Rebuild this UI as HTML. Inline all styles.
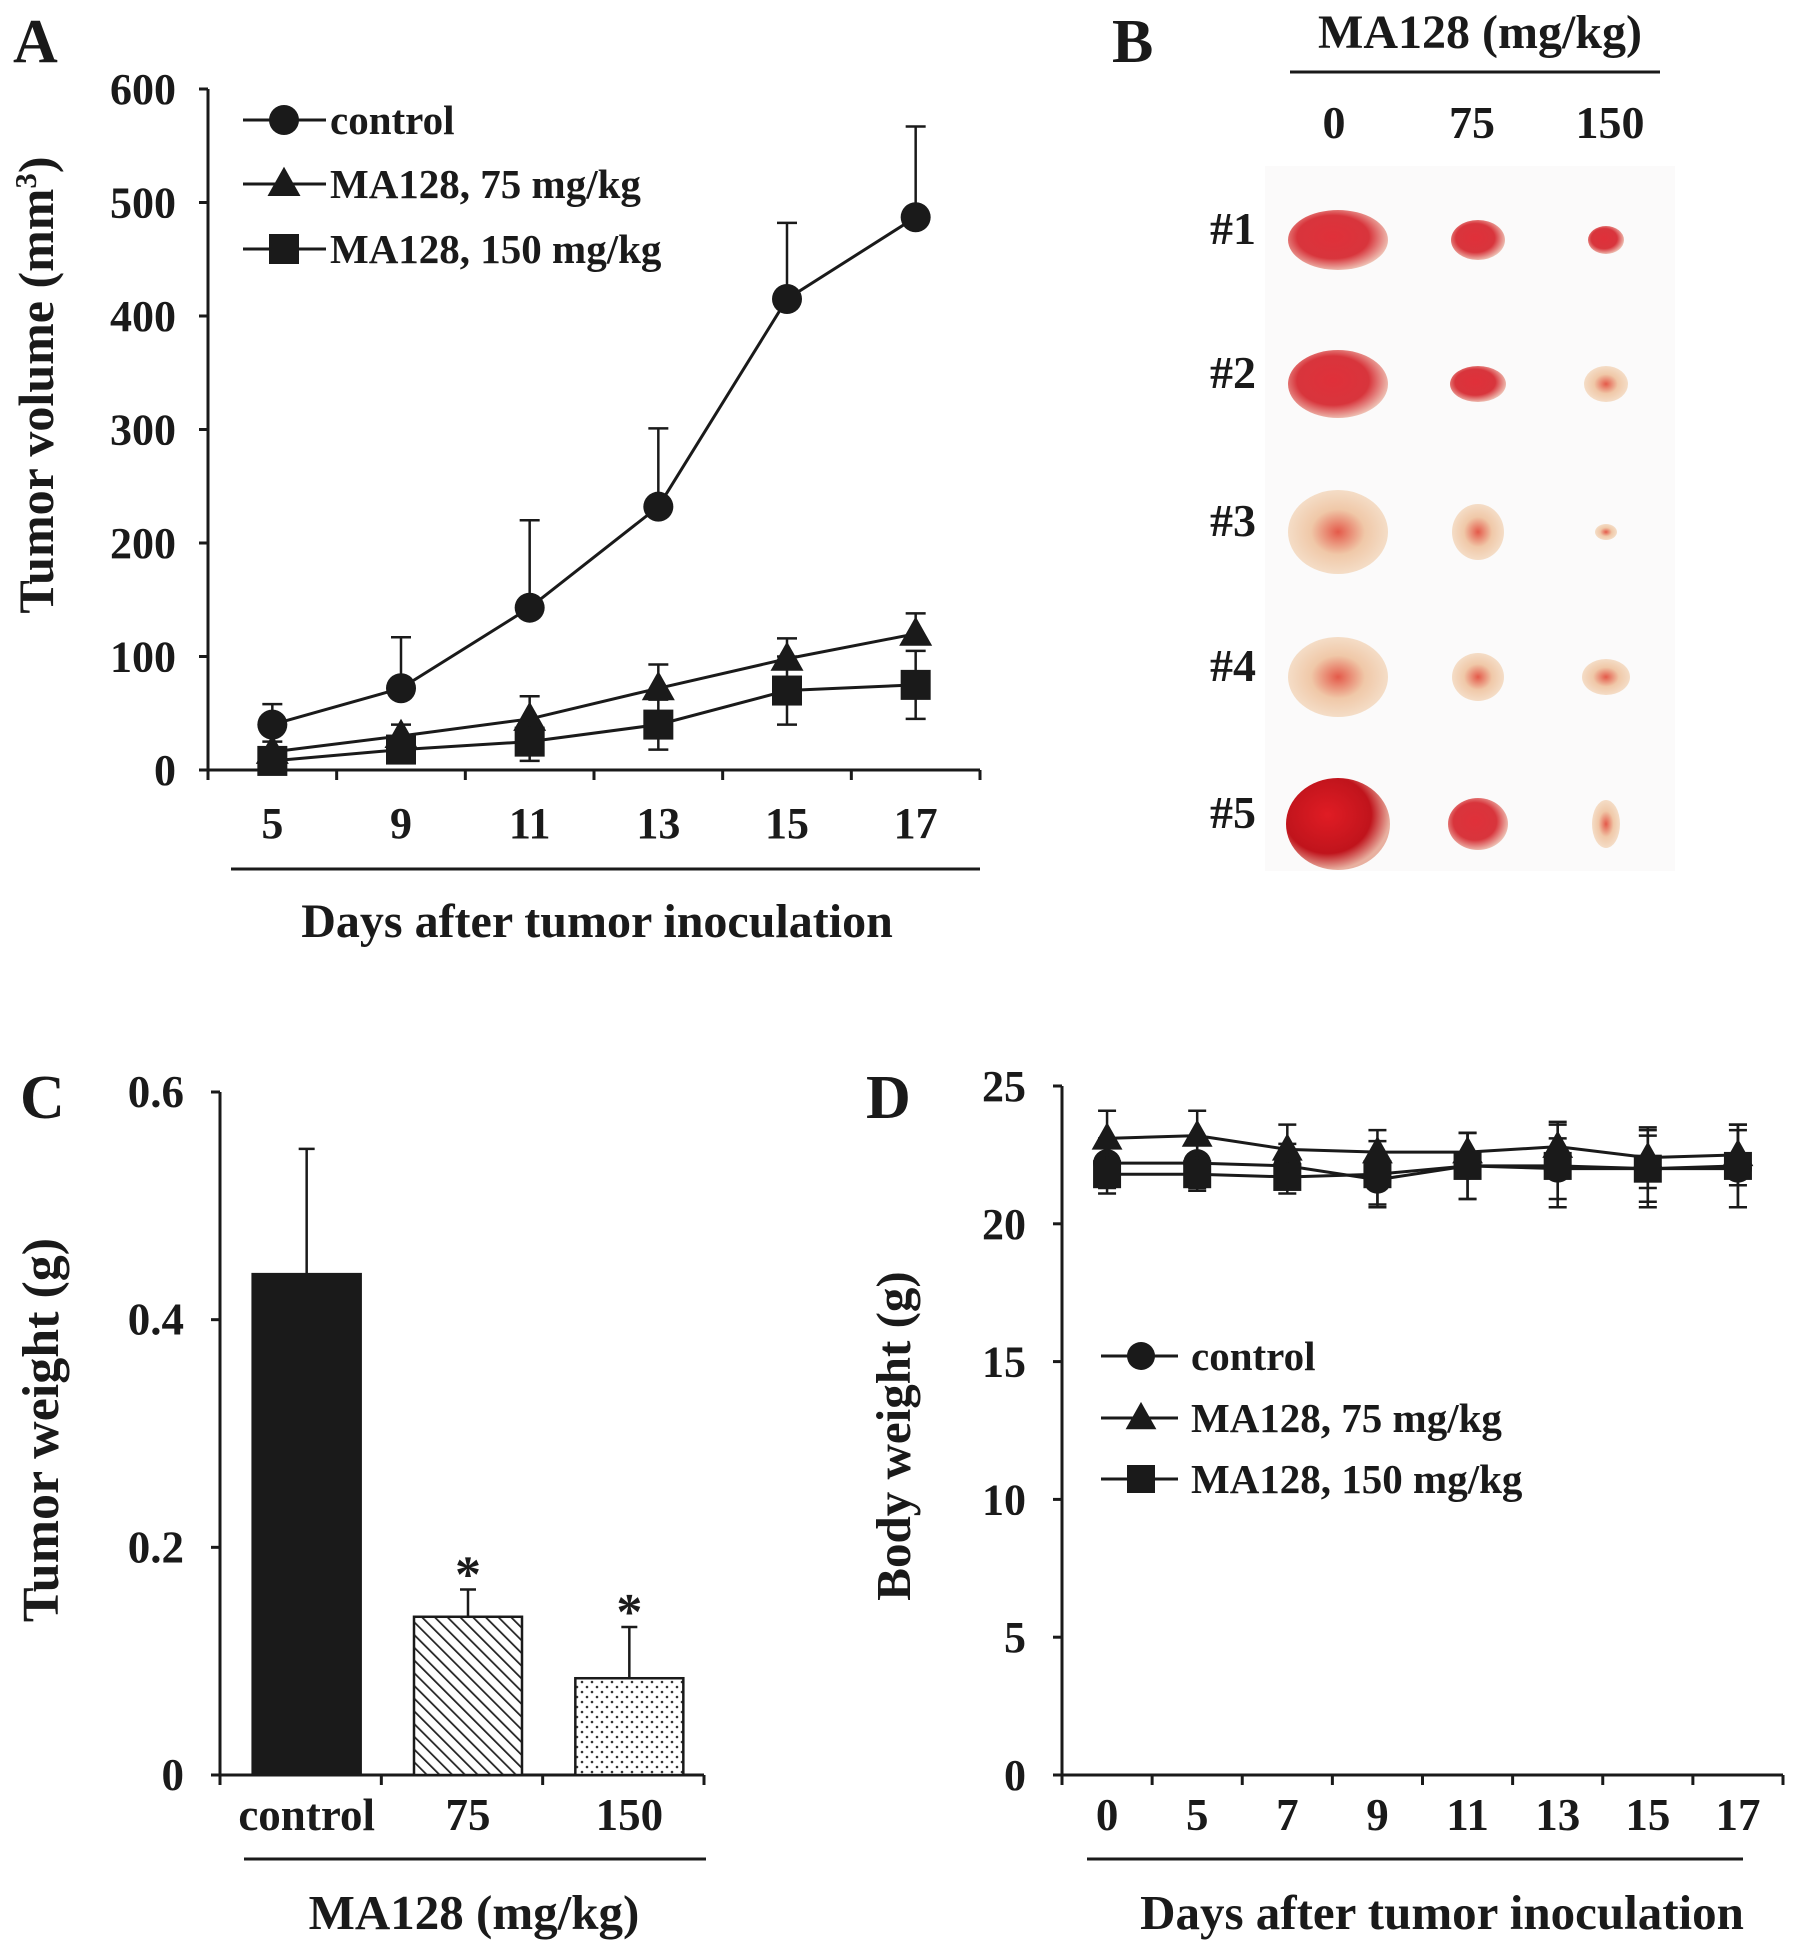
<!DOCTYPE html>
<html><head><meta charset="utf-8"><style>
html,body{margin:0;padding:0;background:#fff}
svg{display:block}
text{font-family:"Liberation Serif",serif;font-weight:bold;fill:#1a1a1a}
</style></head><body>
<svg id="fig" width="1795" height="1947" viewBox="0 0 1795 1947">
<defs>
<pattern id="hatch" width="9" height="9" patternUnits="userSpaceOnUse" patternTransform="rotate(-45)"><rect width="9" height="9" fill="#fff"/><line x1="0" y1="0" x2="0" y2="9" stroke="#222" stroke-width="3.5"/></pattern>
<pattern id="dots" width="10" height="10" patternUnits="userSpaceOnUse"><rect width="10" height="10" fill="#fff"/><circle cx="2" cy="2" r="1.3" fill="#333"/><circle cx="7" cy="7" r="1.3" fill="#333"/></pattern>
<radialGradient id="tumRed" cx="45%" cy="45%" r="60%"><stop offset="0" stop-color="#e0303a"/><stop offset="0.6" stop-color="#d8353c"/><stop offset="1" stop-color="#f2d8c8"/></radialGradient>
<radialGradient id="tumCream" cx="50%" cy="50%" r="60%"><stop offset="0" stop-color="#e45a4a"/><stop offset="0.45" stop-color="#f0c8a8"/><stop offset="1" stop-color="#f6e6d4"/></radialGradient>
<radialGradient id="tumDark" cx="40%" cy="40%" r="60%"><stop offset="0" stop-color="#e01c24"/><stop offset="0.7" stop-color="#c0141c"/><stop offset="1" stop-color="#e8b0a0"/></radialGradient>
</defs>
<g id="panelA"></g>
<g id="panelB"></g>
<g id="panelC"></g>
<g id="panelD"></g>
</svg>
<script>
const NS="http://www.w3.org/2000/svg";
function mk(parent,tag,attrs,txt){const e=document.createElementNS(NS,tag);for(const k in attrs)e.setAttribute(k,attrs[k]);if(txt!==undefined)e.textContent=txt;parent.appendChild(e);return e;}

// ---------- Panel A data ----------
const aDays=["5","9","11","13","15","17"];
const aControl=[40,72,143,232,415,487];
const aControlErr=[18,45,77,69,67,80];
const a75=[16,30,45,72,98,120];
const a75Err=[9,10,20,21,18,18];
const a150=[8,18,25,40,70,75];
const a150Err=[8,10,17,22,30,30];
const aYTicks=[0,100,200,300,400,500,600];

// ---------- Panel C data ----------
const cGroups=["control","75","150"];
const cValues=[0.44,0.139,0.085];
const cErr=[0.11,0.024,0.045];
const cYTicks=[0,0.2,0.4,0.6];
const cYLabels=["0","0.2","0.4","0.6"];

// ---------- Panel D data ----------
const dDays=["0","5","7","9","11","13","15","17"];
const dControl=[22.2,22.2,22.1,21.6,22.1,22.0,22.0,22.0];
const dControlErr=[0.9,0.9,0.8,0.9,1.2,1.1,1.2,1.4];
const d75=[23.1,23.2,22.7,22.6,22.6,22.8,22.4,22.5];
const d75Err=[1.0,0.9,0.9,0.8,0.7,0.9,1.1,1.1];
const d150=[21.8,21.8,21.7,21.8,22.1,22.1,22.0,22.1];
const d150Err=[0.7,0.6,0.6,1.2,1.2,1.5,1.4,1.5];
const dYTicks=[0,5,10,15,20,25];

function marker(g,type,x,y,s,name){
  let m;
  if(type==="circle")m=mk(g,"circle",{cx:x,cy:y,r:s,fill:"#1a1a1a"});
  else if(type==="tri")m=mk(g,"polygon",{points:`${x},${y-s*1.15} ${x-s*1.1},${y+s*0.8} ${x+s*1.1},${y+s*0.8}`,fill:"#1a1a1a"});
  else m=mk(g,"rect",{x:x-s,y:y-s,width:2*s,height:2*s,fill:"#1a1a1a"});
  
  
  return m;
}
function errbar(g,x,y1,y2,cap,name){
  const e=mk(g,"path",{d:`M${x},${y1}V${y2}M${x-cap},${y2}H${x+cap}`,stroke:"#1a1a1a","stroke-width":2.5,fill:"none"});
  
  
}
function lineSeries(g,xs,ys,name){
  const p=mk(g,"polyline",{points:xs.map((x,i)=>x+","+ys[i]).join(" "),fill:"none",stroke:"#1a1a1a","stroke-width":3});
  
  
}

// ===== Panel A =====
(function(){
  const g=document.getElementById("panelA");
  
  
  const x0=208,xEnd=980,y0=770,yTop=89;
  const ys=v=>y0-(v/600)*(y0-yTop);
  const step=(xEnd-x0)/6;
  const xs=i=>x0+step*(i+0.5);
  const lbl=mk(g,"text",{x:13,y:62,"font-size":62},"A");
  
  mk(g,"path",{d:`M${x0},${yTop}V${y0}H${xEnd}`,stroke:"#1a1a1a","stroke-width":3,fill:"none"});
  aYTicks.forEach(v=>{
    mk(g,"line",{x1:x0-9,x2:x0,y1:ys(v),y2:ys(v),stroke:"#1a1a1a","stroke-width":3});
    const t=mk(g,"text",{x:x0-32,y:ys(v)+15,"font-size":44,"text-anchor":"end"},String(v));
    
  });
  for(let i=0;i<=6;i++)mk(g,"line",{x1:x0+step*i,x2:x0+step*i,y1:y0,y2:y0+10,stroke:"#1a1a1a","stroke-width":3});
  aDays.forEach((d,i)=>{
    const t=mk(g,"text",{x:xs(i),y:838,"font-size":44,"text-anchor":"middle"},d);
    
  });
  mk(g,"line",{x1:231,x2:980,y1:869,y2:869,stroke:"#1a1a1a","stroke-width":3});
  const xt=mk(g,"text",{x:597,y:937,"font-size":48,"text-anchor":"middle"},"Days after tumor inoculation");
  
  const yt=mk(g,"text",{x:0,y:0,"font-size":50,"text-anchor":"middle",transform:"translate(53,385) rotate(-90)"});
  yt.innerHTML='Tumor volume (mm<tspan dy="-17" font-size="31">3</tspan><tspan dy="17">)</tspan>';
  
  const X=aDays.map((d,i)=>xs(i));
  [[aControl,aControlErr,"circle","control"],[a75,a75Err,"tri","75"],[a150,a150Err,"square","150"]].forEach(([vals,err,type,nm])=>{
    vals.forEach((v,i)=>errbar(g,X[i],ys(v),ys(v+err[i]),10,'a-error-bar-'+nm));
    if(nm==="150")vals.forEach((v,i)=>errbar(g,X[i],ys(v),ys(Math.max(0,v-err[i])),10,'a-error-bar-'+nm));
    lineSeries(g,X,vals.map(ys),'a-line-'+nm);
    vals.forEach((v,i)=>marker(g,type,X[i],ys(v),15,'a-point-'+nm));
  });
  const leg=[["circle","control",120],["tri","MA128, 75 mg/kg",184],["square","MA128, 150 mg/kg",249]];
  leg.forEach(([type,txt,y])=>{
    mk(g,"line",{x1:243,x2:326,y1:y,y2:y,stroke:"#1a1a1a","stroke-width":3});
    marker(g,type,284,y,15,'a-legend-marker');
    const t=mk(g,"text",{x:330,y:y+14,"font-size":41},txt);
    
  });
})();

// ===== Panel B (photo) =====
(function(){
  const g=document.getElementById("panelB");
  
  
  const l=mk(g,"text",{x:1112,y:62,"font-size":62},"B");
  
  const h=mk(g,"text",{x:1480,y:48,"font-size":48,"text-anchor":"middle"},"MA128 (mg/kg)");
  
  mk(g,"line",{x1:1290,x2:1660,y1:72,y2:72,stroke:"#1a1a1a","stroke-width":3});
  const cols=[1334,1472,1610];
  ["0","75","150"].forEach((t,i)=>{const e=mk(g,"text",{x:cols[i],y:138,"font-size":46,"text-anchor":"middle"},t);});
  mk(g,"rect",{x:1265,y:166,width:410,height:705,fill:"#fbfafa"});
  const rows=[226,370,518,663,810];
  const tcols=[1338,1478,1606];
  const sizes=[[[50,30,"tumRed"],[27,20,"tumRed"],[18,14,"tumRed"]],
               [[50,34,"tumRed"],[28,18,"tumRed"],[22,18,"tumCream"]],
               [[50,42,"tumCream"],[26,28,"tumCream"],[11,8,"tumCream"]],
               [[50,40,"tumCream"],[26,24,"tumCream"],[24,18,"tumCream"]],
               [[52,46,"tumDark"],[30,26,"tumRed"],[14,24,"tumCream"]]];
  rows.forEach((y,r)=>{
    const t=mk(g,"text",{x:1233,y:y+18,"font-size":46,"text-anchor":"middle"},"#"+(r+1));
    
    tcols.forEach((x,c)=>{const [rx,ry,f]=sizes[r][c];const e=mk(g,"ellipse",{cx:x,cy:y+14,rx:rx,ry:ry,fill:`url(#${f})`});});
  });
})();

// ===== Panel C =====
(function(){
  const g=document.getElementById("panelC");
  
  
  const x0=220,xEnd=704,y0=1775,yTop=1092;
  const ys=v=>y0-(v/0.6)*(y0-yTop);
  const step=(xEnd-x0)/3;
  const l=mk(g,"text",{x:20,y:1118,"font-size":62},"C");
  mk(g,"path",{d:`M${x0},${yTop}V${y0}H${xEnd}`,stroke:"#1a1a1a","stroke-width":3,fill:"none"});
  cYTicks.forEach((v,i)=>{
    mk(g,"line",{x1:x0-9,x2:x0,y1:ys(v),y2:ys(v),stroke:"#1a1a1a","stroke-width":3});
    const t=mk(g,"text",{x:x0-36,y:ys(v)+15,"font-size":45,"text-anchor":"end"},cYLabels[i]);
    
  });
  for(let i=0;i<=3;i++)mk(g,"line",{x1:x0+step*i,x2:x0+step*i,y1:y0,y2:y0+10,stroke:"#1a1a1a","stroke-width":3});
  const fills=["#1a1a1a","url(#hatch)","url(#dots)"];
  cGroups.forEach((grp,i)=>{
    const cx=x0+step*(i+0.5)+6;const w=108;
    errbar(g,cx,ys(cValues[i]),ys(cValues[i]+cErr[i]),8,'c-error-bar');
    const b=mk(g,"rect",{x:cx-w/2,y:ys(cValues[i]),width:w,height:y0-ys(cValues[i]),fill:fills[i],stroke:"#1a1a1a","stroke-width":2.5});
    
    const t=mk(g,"text",{x:cx,y:1830,"font-size":45,"text-anchor":"middle"},grp);
    
    if(i>0){const s=mk(g,"text",{x:cx,y:ys(cValues[i]+cErr[i])+2,"font-size":52,"text-anchor":"middle"},"*");}
  });
  mk(g,"line",{x1:244,x2:706,y1:1859,y2:1859,stroke:"#1a1a1a","stroke-width":3});
  const xt=mk(g,"text",{x:474,y:1929,"font-size":49,"text-anchor":"middle"},"MA128 (mg/kg)");
  const yt=mk(g,"text",{x:0,y:0,"font-size":52,"text-anchor":"middle",transform:"translate(58,1430) rotate(-90)"},"Tumor weight (g)");
})();

// ===== Panel D =====
(function(){
  const g=document.getElementById("panelD");
  
  
  const x0=1062,xEnd=1783,y0=1775,yTop=1086;
  const ys=v=>y0-(v/25)*(y0-yTop);
  const step=(xEnd-x0)/8;
  const xs=i=>x0+step*(i+0.5);
  const l=mk(g,"text",{x:866,y:1118,"font-size":62},"D");
  mk(g,"path",{d:`M${x0},${yTop}V${y0}H${xEnd}`,stroke:"#1a1a1a","stroke-width":3,fill:"none"});
  dYTicks.forEach(v=>{
    mk(g,"line",{x1:x0-9,x2:x0,y1:ys(v),y2:ys(v),stroke:"#1a1a1a","stroke-width":3});
    const t=mk(g,"text",{x:x0-36,y:ys(v)+15,"font-size":44,"text-anchor":"end"},String(v));
    
  });
  for(let i=0;i<=8;i++)mk(g,"line",{x1:x0+step*i,x2:x0+step*i,y1:y0,y2:y0+10,stroke:"#1a1a1a","stroke-width":3});
  dDays.forEach((d,i)=>{const t=mk(g,"text",{x:xs(i),y:1830,"font-size":45,"text-anchor":"middle"},d);});
  mk(g,"line",{x1:1087,x2:1743,y1:1859,y2:1859,stroke:"#1a1a1a","stroke-width":3});
  const xt=mk(g,"text",{x:1442,y:1929,"font-size":49,"text-anchor":"middle"},"Days after tumor inoculation");
  const yt=mk(g,"text",{x:0,y:0,"font-size":49,"text-anchor":"middle",transform:"translate(910,1436) rotate(-90)"},"Body weight (g)");
  const X=dDays.map((d,i)=>xs(i));
  [[dControl,dControlErr,"circle","control"],[d75,d75Err,"tri","75"],[d150,d150Err,"square","150"]].forEach(([vals,err,type,nm])=>{
    vals.forEach((v,i)=>{errbar(g,X[i],ys(v),ys(v+err[i]),9,'d-error-bar-'+nm);errbar(g,X[i],ys(v),ys(v-err[i]),9,'d-error-bar-'+nm);});
    lineSeries(g,X,vals.map(ys),'d-line-'+nm);
    vals.forEach((v,i)=>marker(g,type,X[i],ys(v),14,'d-point-'+nm));
  });
  [["circle","control",1356],["tri","MA128, 75 mg/kg",1418],["square","MA128, 150 mg/kg",1479]].forEach(([type,txt,y])=>{
    mk(g,"line",{x1:1101,x2:1178,y1:y,y2:y,stroke:"#1a1a1a","stroke-width":3});
    marker(g,type,1141,y,14,'d-legend-marker');
    const t=mk(g,"text",{x:1191,y:y+14,"font-size":41},txt);
    
  });
})();
</script>
</body></html>
